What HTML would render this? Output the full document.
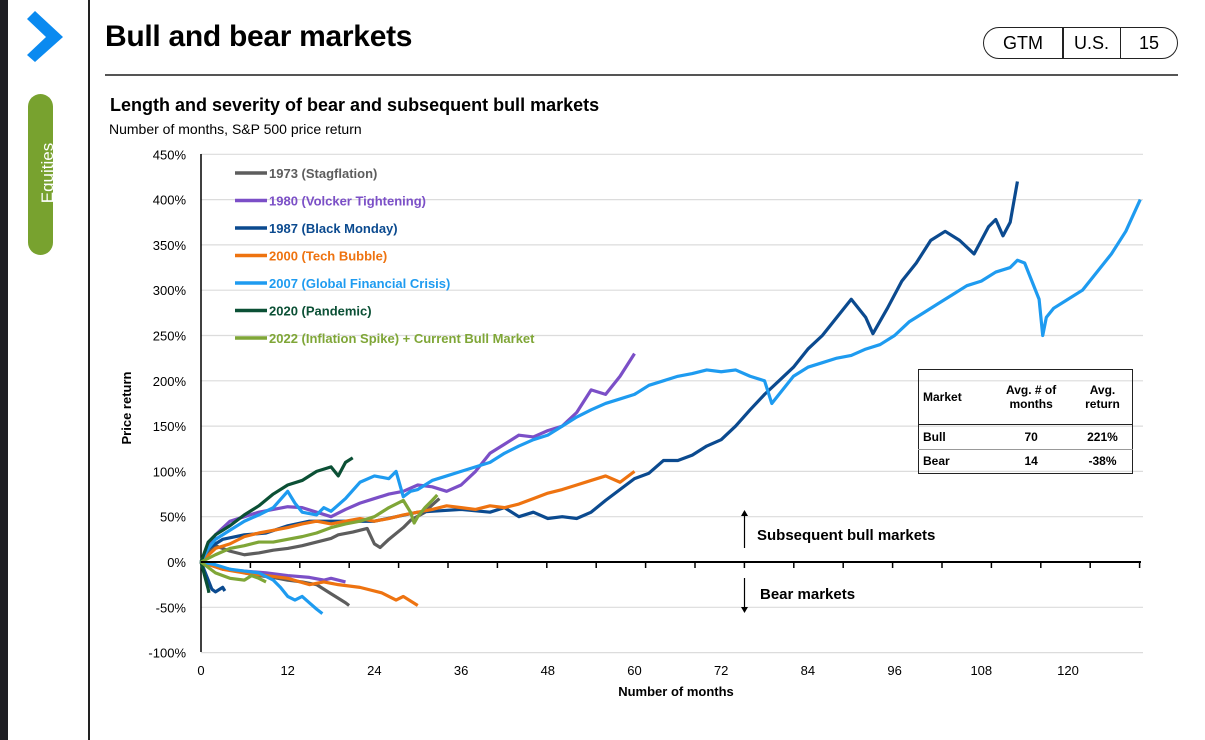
<!DOCTYPE html>
<html><head><meta charset="utf-8"><style>
body{margin:0;width:1205px;height:740px;background:#fff;font-family:"Liberation Sans",sans-serif;overflow:hidden;position:relative}
.a{position:absolute}
</style></head><body>
<div class="a" style="left:0;top:0;width:8px;height:740px;background:#1f1f24"></div>
<div class="a" style="left:88px;top:0;width:1.5px;height:740px;background:#222"></div>
<svg class="a" style="left:27px;top:11px" width="38" height="52"><polygon points="0,8 8,0 36,26 8,51 0,44 19,26" fill="#0a8af0"/></svg>
<div class="a" style="left:28px;top:94px;width:25px;height:161px;background:#78a22f;border-radius:13px"></div>
<div class="a" style="left:-2px;top:163px;width:100px;text-align:center;color:#fff;font-size:17px;transform:rotate(-90deg)">Equities</div>
<div class="a" style="left:105px;top:20px;font-size:30px;font-weight:bold;color:#000;letter-spacing:-0.3px">Bull and bear markets</div>
<div class="a" style="left:105px;top:74px;width:1073px;height:1.5px;background:#555"></div>
<div class="a" style="left:983px;top:27px;width:193px;height:30px;border:1.5px solid #222;border-radius:16px;font-size:18px;display:flex;align-items:center">
<span style="width:78px;text-align:center">GTM</span><span style="width:1.5px;height:30px;background:#222"></span><span style="width:56px;text-align:center">U.S.</span><span style="width:1.5px;height:30px;background:#222"></span><span style="width:56px;text-align:center">15</span></div>
<div class="a" style="left:110px;top:95px;font-size:18px;font-weight:bold">Length and severity of bear and subsequent bull markets</div>
<div class="a" style="left:109px;top:121px;font-size:14px">Number of months, S&amp;P 500 price return</div>
<svg id="chart" class="a" style="left:0;top:0" width="1205" height="740"></svg>
<script>
const yTicks=[450,400,350,300,250,200,150,100,50,0,-50,-100];
const xTickLabels=[0,12,24,36,48,60,72,84,96,108,120];
const names=["1973 (Stagflation)","1980 (Volcker Tightening)","1987 (Black Monday)","2000 (Tech Bubble)","2007 (Global Financial Crisis)","2020 (Pandemic)","2022 (Inflation Spike) + Current Bull Market"];
const colors=["#5d5d5d","#7b4fc7","#0b4a8f","#ee7310","#1e9bf0","#0b5035","#7fa637"];
const bear1973=[[0,0],[2,-5],[4,-8],[6,-12],[8,-15],[10,-17],[12,-20],[14,-22],[16,-25],[18,-35],[20,-45],[20.5,-48]];
const bear1980=[[0,0],[3,-8],[6,-10],[9,-12],[12,-15],[15,-17],[17,-20],[18,-18],[20,-22]];
const bear1987=[[0,0],[1,-20],[1.5,-30],[2,-33],[3,-28],[3.3,-32]];
const bear2000=[[0,0],[3,-8],[6,-12],[9,-15],[12,-18],[15,-25],[17,-22],[19,-25],[22,-28],[25,-34],[27,-42],[28,-38],[30,-48]];
const bear2007=[[0,0],[2,-3],[4,-8],[6,-10],[8,-12],[10,-20],[11,-28],[12,-38],[13,-42],[14,-38],[15,-45],[16,-52],[16.8,-57]];
const bear2020=[[0,0],[0.5,-15],[1,-30],[1.1,-34]];
const bear2022=[[0,0],[2,-12],[4,-18],[6,-20],[7,-15],[8,-18],[9,-22]];
const bull1973=[[0,0],[1,10],[2,18],[4,12],[6,8],[8,10],[10,13],[12,15],[14,18],[16,22],[18,26],[19,30],[21,33],[23,37],[24,20],[24.8,16],[26,25],[28,38],[29,46],[31,55],[32,63],[33,70]];
const bull1980=[[0,0],[2,30],[4,45],[6,50],[8,55],[10,58],[12,61],[14,60],[16,55],[18,50],[20,58],[22,65],[24,70],[26,75],[28,78],[30,85],[32,83],[34,78],[36,85],[38,100],[40,120],[42,130],[44,140],[46,138],[48,145],[50,150],[52,165],[54,190],[56,185],[58,205],[60,230]];
const bull1987=[[0,0],[1,15],[3,25],[6,30],[9,32],[12,40],[15,45],[18,45],[24,45],[30,55],[36,58],[40,55],[42,60],[44,50],[46,55],[48,48],[50,50],[52,48],[54,55],[56,68],[58,80],[60,92],[62,98],[64,112],[66,112],[68,118],[70,128],[72,135],[74,150],[76,168],[78,185],[80,200],[82,215],[84,235],[86,250],[88,270],[90,290],[92,270],[93,252],[95,280],[97,310],[99,330],[101,355],[103,365],[105,355],[107,340],[109,370],[110,378],[111,360],[112,375],[113,420]];
const bull2000=[[0,0],[2,15],[4,20],[6,28],[8,32],[10,35],[12,38],[14,42],[16,45],[18,42],[20,45],[22,48],[24,45],[26,48],[28,52],[30,55],[32,58],[34,62],[36,60],[38,58],[40,62],[42,60],[44,64],[46,70],[48,76],[50,80],[52,85],[54,90],[56,95],[58,88],[60,100]];
const bull2007=[[0,0],[1,15],[2,25],[4,35],[6,45],[8,52],[10,60],[12,78],[13,65],[14,55],[16,52],[17,60],[18,56],[20,70],[22,88],[24,95],[26,92],[27,100],[28,72],[29,78],[30,80],[32,90],[34,95],[36,100],[38,105],[40,110],[42,120],[44,128],[46,135],[48,140],[50,150],[52,160],[54,168],[56,175],[58,180],[60,185],[62,195],[64,200],[66,205],[68,208],[70,212],[72,210],[74,212],[76,205],[78,200],[79,175],[80,185],[82,205],[84,215],[86,220],[88,225],[90,228],[92,235],[94,240],[96,250],[98,265],[100,275],[102,285],[104,295],[106,305],[108,310],[110,320],[112,325],[113,333],[114,330],[115,310],[116,290],[116.5,250],[117,270],[118,280],[120,290],[122,300],[124,320],[126,340],[128,365],[130,400]];
const bull2020=[[0,0],[1,22],[2,30],[4,40],[6,52],[8,62],[10,75],[12,85],[14,90],[16,100],[18,105],[19,95],[20,110],[21,115]];
const bull2022=[[0,0],[2,8],[4,15],[6,18],[8,22],[10,22],[12,25],[14,28],[16,32],[18,38],[20,42],[22,45],[24,50],[26,60],[28,68],[29,55],[29.5,43],[30,50],[31,60],[32,68],[32.7,74]];
const bears=[bear1973,bear1980,bear1987,bear2000,bear2007,bear2020,bear2022];
const bulls=[bull1973,bull1980,bull1987,bull2000,bull2007,bull2020,bull2022];
const X=m=>201+m*7.225, Y=v=>562-v*0.906;
const svg=document.getElementById('chart');const NS='http://www.w3.org/2000/svg';
function mk(t,a,p){const e=document.createElementNS(NS,t);for(const k in a)e.setAttribute(k,a[k]);(p||svg).appendChild(e);return e;}
yTicks.forEach(v=>{
 if(v!==0){const g=mk('line',{x1:201,x2:1143,y1:Y(v),y2:Y(v),stroke:'#dcdcdc','stroke-width':1.2});
 
 }
 const t=mk('text',{x:186,y:Y(v)+5,'text-anchor':'end','font-size':13,fill:'#000'});t.textContent=v+'%';
 
 
});
xTickLabels.forEach(m=>{const t=mk('text',{x:X(m),y:675,'text-anchor':'middle','font-size':13});t.textContent=m;
 
 });
const ya=mk('line',{x1:201,x2:201,y1:154,y2:652,stroke:'#000','stroke-width':1.5});


const allSeries=[];bears.forEach((d,i)=>allSeries.push([d,i,'bear']));bulls.forEach((d,i)=>allSeries.push([d,i,'bull']));
allSeries.forEach(([d,i,k])=>{const p=mk('polyline',{points:d.map(q=>X(q[0])+','+Y(q[1])).join(' '),fill:'none',stroke:colors[i],'stroke-width':3.2,'stroke-linejoin':'round'});
 
 });
const xa=mk('line',{x1:201,x2:1141,y1:562,y2:562,stroke:'#000','stroke-width':2});


for(let x=201+49.4;x<1143;x+=49.4){const tk=mk('line',{x1:x,x2:x,y1:562,y2:568,stroke:'#000','stroke-width':1.5});
 
 }
names.forEach((n,i)=>{const y=173+i*27.5;
 const l=mk('line',{x1:235,x2:267,y1:y,y2:y,stroke:colors[i],'stroke-width':3.5});
 
 
 const t=mk('text',{x:269,y:y+5,'font-size':13,'font-weight':'bold',fill:colors[i]});t.textContent=n;
 
 });
const yt=mk('text',{x:131,y:408,'text-anchor':'middle','font-size':13,'font-weight':'bold',transform:'rotate(-90 131 408)'});yt.textContent='Price return';


const xt=mk('text',{x:676,y:696,'text-anchor':'middle','font-size':13,'font-weight':'bold'});xt.textContent='Number of months';


</script>
<svg class="a" style="left:738px;top:508px" width="14" height="108"><line x1="6.5" y1="6" x2="6.5" y2="40" stroke="#000" stroke-width="1.2"/><polygon points="3,8 6.5,2 10,8" fill="#000"/><line x1="6.5" y1="70" x2="6.5" y2="102" stroke="#000" stroke-width="1.2"/><polygon points="3,99 6.5,105 10,99" fill="#000"/></svg>
<div class="a" style="left:757px;top:527px;font-size:15px;font-weight:bold">Subsequent bull markets</div>
<div class="a" style="left:760px;top:586px;font-size:15px;font-weight:bold">Bear markets</div>
<table class="a" style="left:918px;top:369px;width:215px;height:105px;border:1.3px solid #222;border-collapse:collapse;font-size:12px;font-weight:bold">
<tr style="height:55px"><td style="padding-left:4px">Market</td><td style="text-align:center">Avg. # of<br>months</td><td style="text-align:center">Avg.<br>return</td></tr>
<tr style="border-top:1.3px solid #222"><td style="padding-left:4px">Bull</td><td style="text-align:center">70</td><td style="text-align:center">221%</td></tr>
<tr style="border-top:1px solid #999"><td style="padding-left:4px">Bear</td><td style="text-align:center">14</td><td style="text-align:center">-38%</td></tr>
</table>
</body></html>
